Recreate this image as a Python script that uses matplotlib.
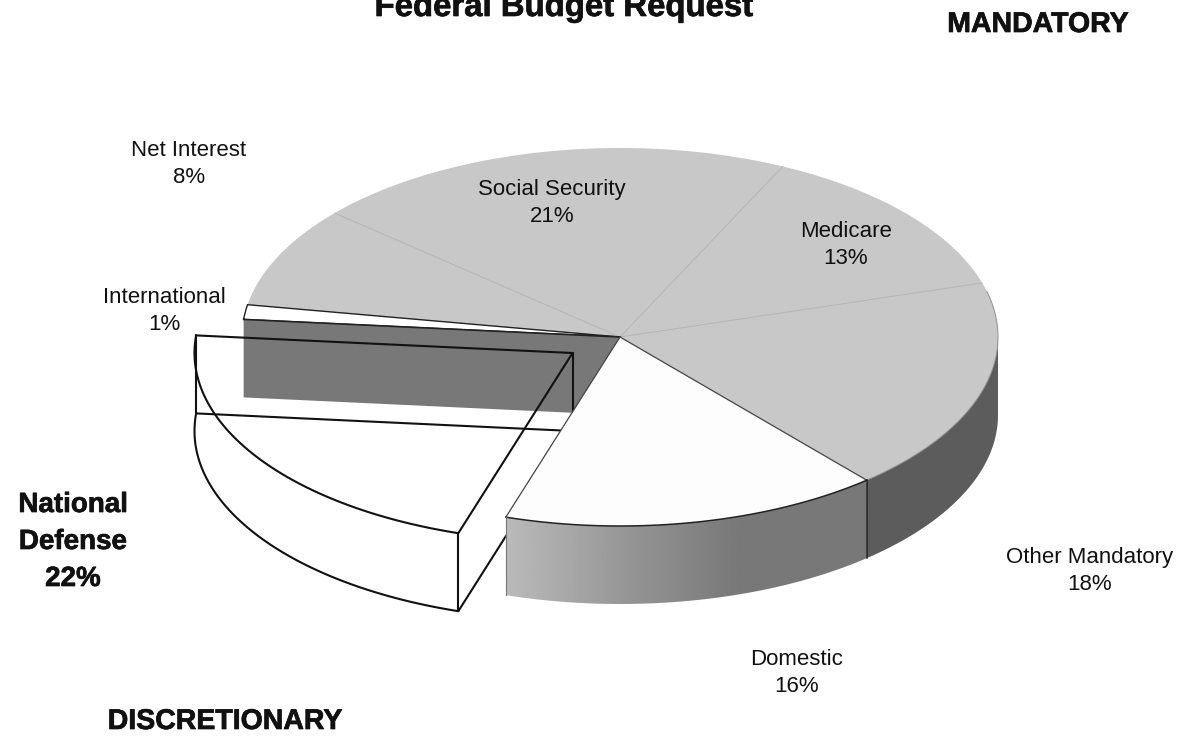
import matplotlib
matplotlib.use("Agg")
import matplotlib.pyplot as plt
import matplotlib.patheffects as pe
import numpy as np

plt.rcParams["font.family"] = ["Liberation Sans", "DejaVu Sans"]

# Printed labels and percentages, clockwise from the Social Security / Medicare edge
names = ["Medicare", "Other Mandatory", "Domestic", "National Defense",
         "International", "Net Interest", "Social Security"]
printed = [13, 18, 16, 22, 1, 8, 21]
# Slice sizes as drawn (the printed numbers only add up to 99)
shares = [13.3, 18.3, 16.2, 21.6, 1.25, 8.65, 20.7]

title = "Federal Budget Request"
group_labels = ["MANDATORY", "DISCRETIONARY"]

# Pie geometry in pixels
cx, cy = 620, 337
rx, ry = 378, 189
depth = 78
start = 64.5
blow_x, blow_y = -47.5, 16

edges = start - np.cumsum([0] + shares) * 3.6


def rim(a, dx=0, dy=0):
    t = np.radians(a)
    return cx + dx + rx * np.cos(t), cy + dy - ry * np.sin(t)


def arc(a1, a2, dx=0, dy=0):
    t = np.linspace(a1, a2, 120)
    return rim(t, dx, dy)


def wedge(a1, a2, dx=0, dy=0):
    x, y = arc(a1, a2, dx, dy)
    return np.r_[cx + dx, x], np.r_[cy + dy, y]


def side(a1, a2):
    x, y = arc(a1, a2)
    return np.r_[x, x[::-1]], np.r_[y, y[::-1] + depth]


fig = plt.figure(figsize=(11.8, 7.37), dpi=100)
ax = fig.add_axes([0, 0, 1, 1])

# index of each slice in the lists above
med, oth, dom, dfn, intl, net, soc = range(7)

# Grey mandatory + interest slices
for i in [med, oth, net, soc]:
    x, y = wedge(edges[i], edges[i + 1])
    ax.fill(x, y, color="#c8c8c8", lw=0, zorder=2)
for i in [med, oth, soc]:
    x0, y0 = rim(edges[i])
    ax.plot([cx, x0], [cy, y0], color="#b0b0b0", lw=0.6, zorder=3)
x0, y0 = rim(edges[net])
ax.plot([cx, x0], [cy, y0], color="#b0b0b0", lw=0.6, zorder=3)

# Right hand wall
x, y = side(0, edges[oth + 1])
ax.fill(x, y, color="#5c5c5c", lw=0, zorder=2)
x, y = arc(14, edges[oth + 1])
ax.plot(x, y, color="#909090", lw=0.7, zorder=3)

# International slice
x, y = wedge(edges[intl], edges[intl + 1])
ax.fill(x, y, facecolor="white", edgecolor="#222222", lw=1.0, zorder=4)

# Hole left by the pulled out slice
xr, yr = rim(edges[intl])
ax.fill([xr, cx, cx, xr], [yr, cy, cy + depth, yr + depth], color="#777877", lw=0, zorder=4)
ax.plot([xr, cx], [yr, cy], color="#222222", lw=1.2, zorder=5)

# Pulled out National Defense slice, outline only
ink = {"color": "#111111", "lw": 1.5, "zorder": 6, "solid_capstyle": "round"}
a1, a2 = edges[dfn], edges[dfn + 1]
ax_, ay_ = cx + blow_x, cy + blow_y
x1, y1 = rim(a1, blow_x, blow_y)
x2, y2 = rim(a2, blow_x, blow_y)
x, y = wedge(a1, a2, blow_x, blow_y)
ax.plot(np.r_[x, ax_], np.r_[y, ay_], **ink)
x, y = arc(a1, a2, blow_x, blow_y + depth)
ax.plot(x, y, **ink)
ax.plot([x1, x1], [y1, y1 + depth], **ink)
ax.plot([x2, x2], [y2, y2 + depth], **ink)
ax.plot([ax_, ax_], [ay_, ay_ + depth], **ink)
ax.plot([x2, ax_], [y2 + depth, ay_ + depth], **ink)
ax.plot([x1, ax_], [y1 + depth, ay_ + depth], **ink)

# Domestic slice sits on top of the outline
x, y = side(edges[dom], edges[dom + 1])
ax.fill(x, y, color="white", lw=0, zorder=7)
xa, _ = rim(edges[dom + 1])
xb, _ = rim(edges[dom])
grad = np.interp(np.linspace(0, 1, 256), [0, 0.35, 0.65, 1], [0.73, 0.58, 0.47, 0.47]).reshape(1, -1)
im = ax.imshow(grad, cmap="gray", vmin=0, vmax=1, extent=[xa, xb, 620, 330], aspect="auto", zorder=8)
clip = ax.fill(x, y, color="none", lw=0, zorder=8)[0]
im.set_clip_path(clip)

x, y = wedge(edges[dom], edges[dom + 1])
ax.fill(x, y, color="#fdfdfd", lw=0, zorder=9)
x, y = arc(edges[dom], edges[dom + 1])
ax.plot(x, y, color="#222222", lw=1.1, zorder=10)
for a in [edges[dom], edges[dom + 1]]:
    x0, y0 = rim(a)
    ax.plot([cx, x0], [cy, y0], color="#444444", lw=0.9, zorder=10)
x0, y0 = rim(edges[dom])
ax.plot([x0, x0], [y0, y0 + depth], color="#222222", lw=1.1, zorder=10)
x0, y0 = rim(edges[dom + 1])
ax.plot([x0, x0], [y0, y0 + depth], color="#777777", lw=0.8, zorder=10)

# Slice labels
label_pos = [(846, 245), (1090, 571), (797, 673), (73, 542), (164, 311), (189, 164), (552, 203)]
for i, name in enumerate(names):
    if name == "National Defense":
        continue
    ax.text(label_pos[i][0], label_pos[i][1], f"{name}\n{printed[i]}%", ha="center", va="center",
            fontsize=16, color="#111111", linespacing=1.35, zorder=11)

heavy = [pe.withStroke(linewidth=0.5, foreground="#111111")]
ax.text(label_pos[dfn][0], label_pos[dfn][1], f"National\nDefense\n{printed[dfn]}%", ha="center", va="center",
        fontsize=20, fontweight="bold", color="#111111", linespacing=1.55, zorder=11, path_effects=heavy)
# the title runs off the top of the picture in the original too
ax.text(563.5, 16, title, ha="center", va="baseline", fontsize=23.7, fontweight="bold",
        color="#111111", zorder=11, path_effects=heavy)
ax.text(1038, 25, group_labels[0], ha="center", va="center", fontsize=20.5, fontweight="bold",
        color="#111111", zorder=11, path_effects=heavy)
ax.text(225, 722, group_labels[1], ha="center", va="center", fontsize=20.5, fontweight="bold",
        color="#111111", zorder=11, path_effects=heavy)

ax.set_xlim(0, 1180)
ax.set_ylim(737, 0)
ax.axis("off")
fig.savefig("out.png", dpi=100)
